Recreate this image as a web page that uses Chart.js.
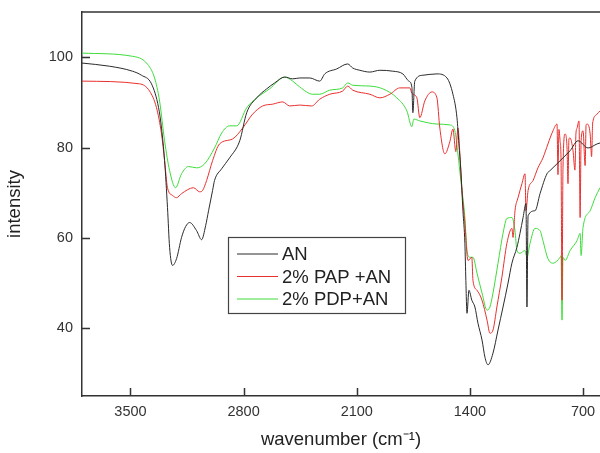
<!DOCTYPE html>
<html>
<head>
<meta charset="utf-8">
<script src="https://cdn.jsdelivr.net/npm/chart.js@4.4.1/dist/chart.umd.min.js"></script>
<style>
  html, body { margin: 0; padding: 0; background: #fff; }
  #wrap { width: 600px; height: 453px; }
</style>
</head>
<body>
<div id="wrap"><canvas id="ftir" width="600" height="453"></canvas></div>
<script>
// widma FTIR (liczba falowa cm-1 / intensywnosc)
const seriesLabels = ['AN', '2% PAP +AN', '2% PDP+AN'];
const seriesColors = ['#2b2b2b', '#e8302e', '#3ddc3a'];

const anWave = [3800,3630,3488,3432,3370,3326,3308,3289,3271,3258,3240,3215,3184,3159,3134,3091,3060,3035,3017,2992,2980,2936,2887,2824,2781,2719,2657,2608,2546,2496,2453,2391,2329,2298,2224,2156,2125,2081,2019,1957,1877,1815,1778,1759,1753,1741,1691,1604,1542,1505,1480,1468,1456,1443,1431,1425,1418,1406,1388,1369,1350,1325,1307,1288,1257,1226,1195,1164,1140,1109,1090,1071,1053,1047,1040,997,966,923,904,861,830,780,731,669,613,595];
const anInt = [98.7,98.0,96.9,96.0,94.1,88.8,84.3,77.1,66.7,57.9,53.9,55.4,60.1,62.5,63.4,61.6,59.6,62.7,66.0,70.5,72.7,75.3,77.7,81.5,87.7,91.0,93.0,94.3,95.6,95.2,95.4,95.4,94.7,96.3,97.4,98.5,97.6,97.1,96.7,97.1,96.9,96.3,94.7,93.4,87.7,94.7,96.0,96.3,95.4,91.8,86.6,80.8,74.9,66.0,58.8,50.6,43.3,48.4,46.2,44.7,41.1,37.4,33.6,31.9,34.5,39.6,44.7,50.0,54.4,57.9,61.0,64.5,67.6,44.7,64.9,66.0,69.8,74.2,74.9,76.4,77.5,79.3,81.5,79.9,80.8,81.0];

const papWave = [3800,3444,3382,3339,3308,3289,3271,3240,3215,3184,3110,3072,3054,3029,2992,2949,2868,2806,2744,2682,2620,2558,2515,2453,2379,2329,2267,2187,2156,2125,2019,1957,1895,1834,1771,1759,1728,1710,1679,1635,1604,1586,1555,1524,1505,1487,1474,1462,1449,1431,1412,1388,1381,1356,1325,1294,1276,1257,1233,1202,1171,1140,1133,1121,1102,1078,1059,1053,1040,1009,979,948,917,886,861,855,849,842,836,830,824,811,799,793,787,780,762,750,744,737,725,718,712,700,687,681,675,656,647,641,638,613,595];
const papInt = [94.7,94.1,92.5,88.8,83.0,77.1,71.1,69.4,68.9,69.8,71.1,70.2,70.5,72.7,77.1,80.8,81.9,84.3,87.4,89.2,89.6,90.1,89.2,89.4,89.2,90.7,91.8,92.5,93.6,92.7,91.8,91.0,91.8,93.2,93.2,92.0,91.0,86.6,90.3,92.3,91.0,84.3,78.6,81.3,84.1,79.1,84.3,78.6,70.5,63.2,55.0,55.7,50.6,48.4,46.2,41.8,38.9,39.6,44.7,51.3,58.8,62.1,60.1,66.0,68.9,72.0,74.2,66.0,70.5,72.7,75.5,77.7,80.8,83.7,85.2,74.0,84.0,81.5,77.1,46.2,75.5,83.0,79.9,72.0,82.0,82.1,79.3,75.0,83.0,84.3,85.9,64.5,81.5,83.7,76.0,85.0,85.2,83.0,78.0,85.0,85.9,87.4,88.1];

const pdpWave = [3800,3488,3401,3351,3320,3289,3258,3221,3184,3141,3091,3041,2980,2936,2887,2843,2781,2719,2639,2546,2496,2453,2372,2329,2267,2187,2156,2125,2019,1939,1852,1790,1759,1747,1710,1604,1524,1493,1474,1456,1431,1418,1400,1381,1356,1325,1294,1276,1257,1226,1195,1171,1140,1121,1109,1090,1059,1047,1028,997,966,948,917,886,842,836,830,824,811,780,737,718,712,700,656,625,595];
const pdpInt = [100.9,100.2,98.7,95.4,90.3,81.5,74.9,71.1,74.2,75.8,75.5,76.4,79.9,83.2,84.8,84.8,88.8,91.0,93.0,95.6,94.7,93.4,91.8,91.8,92.7,93.2,94.3,93.8,93.6,93.0,91.0,88.1,84.6,86.3,85.9,85.2,85.0,83.7,78.6,72.7,64.5,57.2,55.7,55.7,52.2,47.8,44.0,44.7,47.8,54.4,61.0,64.3,64.5,61.6,57.2,56.6,57.2,55.7,58.8,62.1,61.6,59.4,55.4,54.4,55.7,56.1,41.8,55.7,55.0,57.2,59.4,61.0,56.1,62.3,66.0,68.9,71.1];

const xTicks = [3500, 2800, 2100, 1400, 700];
const yTicks = [40, 60, 80, 100];

const FONT = "'Liberation Sans', Arial, sans-serif";
const AXIS = '#333';

function toPoints(xs, ys) {
  return xs.map((x, i) => ({ x, y: ys[i] }));
}

// ramka u gory, kreski do srodka i legenda w ramce
const framePlugin = {
  id: 'frame',
  afterDraw(chart) {
    const { ctx, chartArea: a, scales } = chart;
    ctx.save();
    ctx.strokeStyle = AXIS;
    ctx.lineWidth = 1.5;
    ctx.beginPath();
    ctx.moveTo(a.left, a.top);
    ctx.lineTo(a.right, a.top);
    ctx.stroke();

    ctx.beginPath();
    scales.x.ticks.forEach(t => {
      const px = Math.round(scales.x.getPixelForValue(t.value)) + 0.5;
      ctx.moveTo(px, a.bottom);
      ctx.lineTo(px, a.bottom - 8);
    });
    scales.y.ticks.forEach(t => {
      const py = Math.round(scales.y.getPixelForValue(t.value)) + 0.5;
      ctx.moveTo(a.left, py);
      ctx.lineTo(a.left + 8, py);
    });
    ctx.stroke();

    // legenda
    const bx = 228, by = 237, bw = 177, bh = 76;
    ctx.fillStyle = '#fff';
    ctx.fillRect(bx, by, bw, bh);
    ctx.lineWidth = 1.2;
    ctx.strokeStyle = '#444';
    ctx.strokeRect(bx + 0.5, by + 0.5, bw, bh);
    ctx.font = '18.5px ' + FONT;
    ctx.textBaseline = 'middle';
    chart.data.datasets.forEach((ds, i) => {
      const y = by + 17 + i * 22.5;
      ctx.strokeStyle = ds.borderColor;
      ctx.lineWidth = 1;
      ctx.beginPath();
      ctx.moveTo(bx + 9, y);
      ctx.lineTo(bx + 50, y);
      ctx.stroke();
      ctx.fillStyle = '#222';
      ctx.fillText(ds.label, bx + 54, y + 1);
    });
    ctx.restore();
  }
};

const series = [toPoints(anWave, anInt), toPoints(papWave, papInt), toPoints(pdpWave, pdpInt)];

new Chart(document.getElementById('ftir'), {
  type: 'line',
  data: {
    datasets: series.map((pts, i) => ({
      label: seriesLabels[i],
      data: pts,
      borderColor: seriesColors[i],
      borderWidth: 1,
      pointRadius: 0,
      cubicInterpolationMode: 'monotone',
      fill: false
    }))
  },
  options: {
    responsive: false,
    animation: false,
    devicePixelRatio: 1,
    layout: { padding: { top: 12, right: 0, left: 0, bottom: 0 } },
    plugins: { legend: { display: false }, tooltip: { enabled: false } },
    scales: {
      x: {
        type: 'linear',
        reverse: true,
        min: 595,
        max: 3800,
        afterFit: s => { s.height = 57; s.paddingLeft = 0; s.paddingRight = 0; },
        afterBuildTicks: s => { s.ticks = xTicks.map(v => ({ value: v })); },
        grid: { drawOnChartArea: false, drawTicks: false },
        border: { color: AXIS, width: 1.5 },
        ticks: { color: '#333', padding: 7, font: { family: FONT, size: 14.5 }, callback: v => String(v) },
        title: {
          display: true,
          text: 'wavenumber (cm\u207B\u00B9)',
          color: '#222',
          font: { family: FONT, size: 18.5 },
          padding: { top: 0, bottom: 2 }
        }
      },
      y: {
        min: 25,
        max: 110,
        afterFit: s => { s.width = 82; s.paddingTop = 0; s.paddingBottom = 0; },
        afterBuildTicks: s => { s.ticks = yTicks.map(v => ({ value: v })); },
        grid: { drawOnChartArea: false, drawTicks: false },
        border: { color: AXIS, width: 1.5 },
        ticks: { color: '#333', padding: 9, font: { family: FONT, size: 14.5 }, callback: v => String(v) },
        title: {
          display: true,
          text: 'intensity',
          color: '#222',
          font: { family: FONT, size: 18.5 },
          padding: { top: 4, bottom: 0 }
        }
      }
    }
  },
  plugins: [framePlugin]
});
</script>
</body>
</html>
